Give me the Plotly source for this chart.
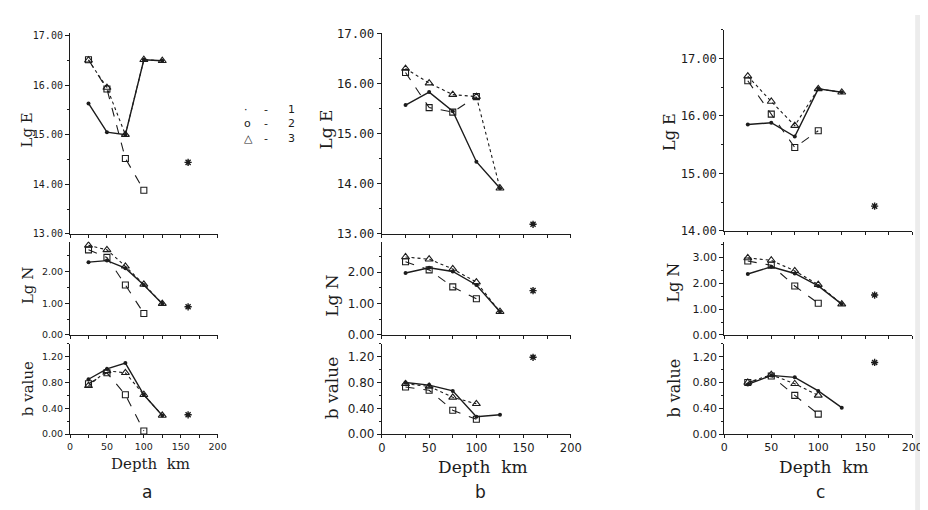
import plotly.graph_objects as go

W, H = 928, 510

# ---------------- data ----------------
depth = [25, 50, 75, 100, 125]
star_depth = [160]
x_tickvals = [0, 25, 50, 75, 100, 125, 150, 175, 200]
x_ticktext = ["0", "", "50", "", "100", "", "150", "", "200"]

# column a
a_lgE_1 = [15.63, 15.05, 15.00, 16.51, 16.49]
a_lgE_2 = [16.51, 15.92, 14.52, 13.88, None]
a_lgE_3 = [16.50, 15.95, 15.00, 16.51, 16.49]
a_lgE_star = [14.44]
a_lgN_1 = [2.30, 2.35, 2.11, 1.58, 0.99]
a_lgN_2 = [2.69, 2.45, 1.58, 0.68, None]
a_lgN_3 = [2.83, 2.69, 2.17, 1.60, 0.99]
a_lgN_star = [0.89]
a_b_1 = [0.85, 1.01, 1.10, 0.61, 0.29]
a_b_2 = [0.78, 0.95, 0.61, 0.05, None]
a_b_3 = [0.75, 0.98, 0.95, 0.61, 0.29]
a_b_star = [0.30]

# column b
b_lgE_1 = [15.57, 15.83, 15.45, 14.44, 13.91]
b_lgE_2 = [16.22, 15.52, 15.43, 15.74, None]
b_lgE_3 = [16.30, 16.01, 15.78, 15.74, 13.91]
b_lgE_star = [13.19]
b_lgN_1 = [1.97, 2.14, 2.02, 1.59, 0.74]
b_lgN_2 = [2.33, 2.07, 1.53, 1.15, None]
b_lgN_3 = [2.48, 2.41, 2.10, 1.68, 0.74]
b_lgN_star = [1.41]
b_b_1 = [0.80, 0.76, 0.67, 0.27, 0.30]
b_b_2 = [0.73, 0.68, 0.37, 0.23, None]
b_b_3 = [0.78, 0.74, 0.57, 0.47, None]
b_b_star = [1.19]

# column c
c_lgE_1 = [15.85, 15.88, 15.64, 16.47, 16.41]
c_lgE_2 = [16.61, 16.03, 15.45, 15.74, None]
c_lgE_3 = [16.69, 16.25, 15.83, 16.47, 16.41]
c_lgE_star = [14.43]
c_lgN_1 = [2.35, 2.63, 2.37, 1.89, 1.19]
c_lgN_2 = [2.85, 2.69, 1.89, 1.22, None]
c_lgN_3 = [2.97, 2.88, 2.47, 1.94, 1.19]
c_lgN_star = [1.54]
c_b_1 = [0.77, 0.91, 0.88, 0.67, 0.41]
c_b_2 = [0.80, 0.90, 0.60, 0.31, None]
c_b_3 = [0.80, 0.92, 0.78, 0.60, None]
c_b_star = [1.11]

legend_symbols = ["\u00b7", "o", "\u25b3"]
legend_numbers = ["1", "2", "3"]
panel_letters = ["a", "b", "c"]
row_titles = ["Lg E", "Lg N", "b value"]

# ---------------- layout geometry (pixels) ----------------
col_x = [(59, 209), (376, 568), (724, 915)]
row_y = [[(18, 225), (18, 225), (15, 222)],
         [(233, 329), (233, 329), (233, 329)],
         [(338, 431), (338, 431), (338, 431)]]
y_ranges = [[[13, 17.06], [13, 17.02], [14, 17.5]],
            [[0, 2.95], [0, 2.97], [0, 3.6]],
            [[0, 1.4], [0, 1.4], [0, 1.4]]]
y_tickvals = [[[13, 14, 15, 16, 17], [13, 14, 15, 16, 17], [14, 15, 16, 17]],
              [[0, 1, 2], [0, 1, 2], [0, 1, 2, 3]],
              [[0, 0.4, 0.8, 1.2]] * 3]
y_minor = [0.5, 0.5, 0.2]
# tick font sizes: [column][row]
ytick_font = [[10, 9.5, 9.5], [12.5, 12, 12], [12, 11, 11]]
ytick_family = ["DejaVu Sans Mono", "DejaVu Sans", "DejaVu Sans"]
xtick_font = [9.5, 11.5, 11]
title_font = [15, 17, 16]
depth_font = [15, 17, 17]

panels = [
    [(a_lgE_1, a_lgE_2, a_lgE_3, a_lgE_star), (b_lgE_1, b_lgE_2, b_lgE_3, b_lgE_star), (c_lgE_1, c_lgE_2, c_lgE_3, c_lgE_star)],
    [(a_lgN_1, a_lgN_2, a_lgN_3, a_lgN_star), (b_lgN_1, b_lgN_2, b_lgN_3, b_lgN_star), (c_lgN_1, c_lgN_2, c_lgN_3, c_lgN_star)],
    [(a_b_1, a_b_2, a_b_3, a_b_star), (b_b_1, b_b_2, b_b_3, b_b_star), (c_b_1, c_b_2, c_b_3, c_b_star)],
]

INK = "#1c1c1c"
fig = go.Figure()
layout = {}

def px(x):
    return x / W

def py(y):
    return 1 - y / H

for r in range(3):
    for c in range(3):
        k = r * 3 + c + 1
        xa = "x" if k == 1 else f"x{k}"
        ya = "y" if k == 1 else f"y{k}"
        s1, s2, s3, st = panels[r][c]
        fig.add_trace(go.Scatter(x=depth, y=s3, xaxis=xa, yaxis=ya, mode="lines+markers",
                                 line=dict(color=INK, width=1.1, dash="dot"),
                                 marker=dict(symbol="triangle-up-open", size=7, color=INK, line=dict(width=1.1))))
        fig.add_trace(go.Scatter(x=depth, y=s2, xaxis=xa, yaxis=ya, mode="lines+markers",
                                 line=dict(color=INK, width=1.1, dash="dash"),
                                 marker=dict(symbol="square-open", size=6, color=INK, line=dict(width=1.1))))
        fig.add_trace(go.Scatter(x=depth, y=s1, xaxis=xa, yaxis=ya, mode="lines+markers",
                                 line=dict(color=INK, width=1.4),
                                 marker=dict(symbol="circle", size=4, color=INK)))
        fig.add_trace(go.Scatter(x=star_depth, y=st, xaxis=xa, yaxis=ya, mode="markers",
                                 marker=dict(symbol="asterisk-open", size=6, color=INK, line=dict(width=1.4))))

        x0, x1 = col_x[c]
        ytop, ybot = row_y[r][c]
        xkey = "xaxis" if k == 1 else f"xaxis{k}"
        ykey = "yaxis" if k == 1 else f"yaxis{k}"
        layout[xkey] = dict(domain=[px(x0), px(x1)], anchor=ya, range=[0, 200],
                            showline=True, linecolor=INK, linewidth=1.2, showgrid=False, zeroline=False,
                            tickmode="array", tickvals=x_tickvals,
                            ticktext=x_ticktext if r == 2 else [""] * len(x_tickvals),
                            ticks="outside", ticklen=3, tickcolor=INK,
                            tickfont=dict(family="DejaVu Sans", size=xtick_font[c], color=INK))
        layout[ykey] = dict(domain=[py(ybot), py(ytop)], anchor=xa, range=y_ranges[r][c],
                            showline=True, linecolor=INK, linewidth=1.2, showgrid=False, zeroline=False,
                            tickmode="array", tickvals=y_tickvals[r][c], tickformat=".2f",
                            ticks="outside", ticklen=4, tickcolor=INK,
                            minor=dict(dtick=y_minor[r], ticks="outside", ticklen=2, tickcolor=INK, showgrid=False),
                            tickfont=dict(family=ytick_family[r], size=ytick_font[c][r], color=INK))

annotations = []
title_pos = [[(15, 118), (17, 278), (17, 384)],
             [(319, 118), (325, 288), (326, 384)],
             [(669, 120), (672, 275), (673, 384)]]
for c in range(3):
    for r in range(3):
        x, y = title_pos[c][r]
        annotations.append(dict(x=px(x), y=py(y), xref="paper", yref="paper", text=row_titles[r],
                                textangle=-90, showarrow=False, xanchor="center", yanchor="middle",
                                font=dict(family="DejaVu Serif", size=title_font[c], color=INK)))

depth_pos = [(141, 462), (479, 465), (825, 465)]
letter_pos = [(137, 490), (476, 490), (822, 490)]
for c in range(3):
    x, y = depth_pos[c]
    annotations.append(dict(x=px(x), y=py(y), xref="paper", yref="paper", text="Depth&nbsp;&nbsp;km",
                            showarrow=False, xanchor="center", yanchor="middle",
                            font=dict(family="DejaVu Serif", size=depth_font[c], color=INK)))
    x, y = letter_pos[c]
    annotations.append(dict(x=px(x), y=py(y), xref="paper", yref="paper", text=panel_letters[c],
                            showarrow=False, xanchor="center", yanchor="middle",
                            font=dict(family="DejaVu Sans", size=17, color=INK)))

for i in range(3):
    yy = 88 + 15 * i
    annotations.append(dict(x=px(234), y=py(yy), xref="paper", yref="paper", text=legend_symbols[i],
                            showarrow=False, font=dict(family="DejaVu Sans", size=11, color=INK)))
    annotations.append(dict(x=px(254), y=py(yy), xref="paper", yref="paper", text="-",
                            showarrow=False, font=dict(family="DejaVu Sans", size=11, color=INK)))
    annotations.append(dict(x=px(279), y=py(yy), xref="paper", yref="paper", text=legend_numbers[i],
                            showarrow=False, font=dict(family="DejaVu Sans", size=11, color=INK)))

fig.update_layout(**layout)
fig.update_layout(width=W, height=H, autosize=False, showlegend=False,
                  margin=dict(l=0, r=0, t=0, b=0),
                  paper_bgcolor="white", plot_bgcolor="white",
                  annotations=annotations,
                  shapes=[dict(type="rect", xref="paper", yref="paper", x0=px(918), x1=1, y0=0, y1=1,
                               fillcolor="rgba(200,200,200,0.35)", line=dict(width=0), layer="below")])

fig.write_html("out.html")
